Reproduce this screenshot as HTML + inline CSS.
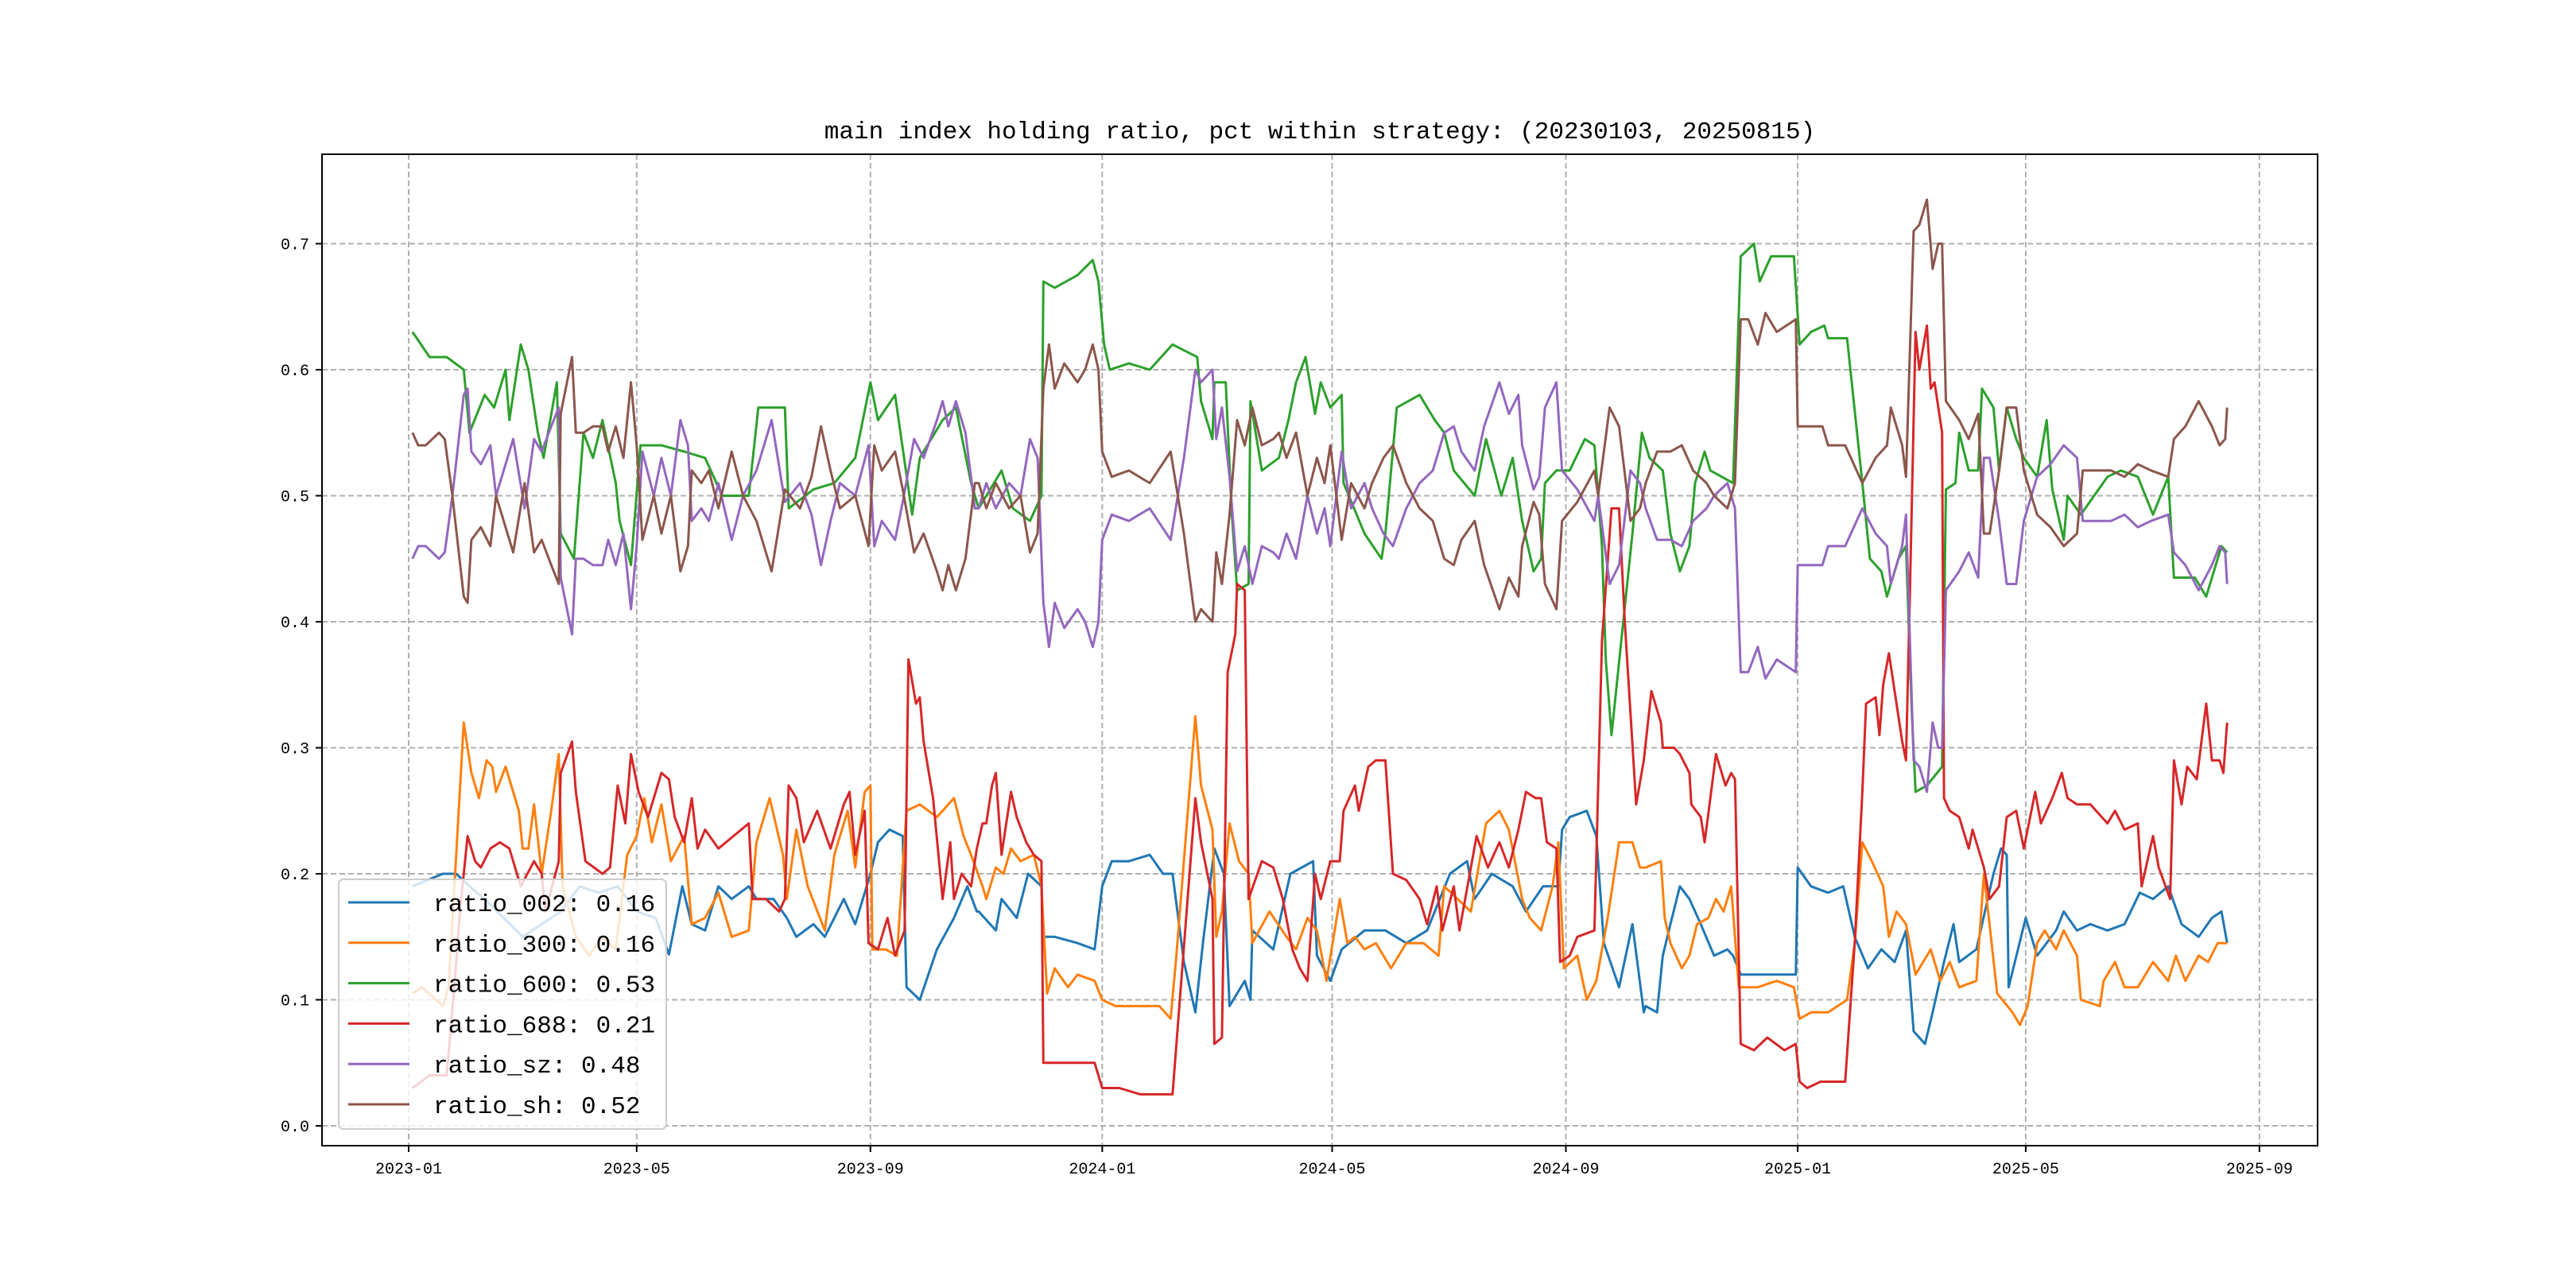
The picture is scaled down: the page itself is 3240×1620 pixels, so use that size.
<!DOCTYPE html>
<html><head><meta charset="utf-8"><style>
html,body{margin:0;padding:0;background:#fff;}
svg{display:block;}
</style></head><body>
<svg id="chart" width="3240" height="1620" viewBox="0 0 3240 1620" xmlns="http://www.w3.org/2000/svg">
<rect width="3240" height="1620" fill="#fff"/>
<text x="1660" y="174" text-anchor="middle" font-family="Liberation Mono, monospace" font-size="31" fill="#000">main index holding ratio, pct within strategy: (20230103, 20250815)</text>
<g id="grid"></g><g id="series"></g>
<rect x="405" y="194" width="2510" height="1247" fill="none" stroke="#000" stroke-width="2"/>
<g id="ticks"></g>
<g id="legend"></g>
</svg>
<script>
const yTicks=[0,0.1,0.2,0.3,0.4,0.5,0.6,0.7];
const xTickLabels=["2023-01","2023-05","2023-09","2024-01","2024-05","2024-09","2025-01","2025-05","2025-09"];
const xTickDays=[0,120,243,365,486,609,731,851,974];
const seriesNames=["ratio_002","ratio_300","ratio_600","ratio_688","ratio_sz","ratio_sh"];
const seriesMeans=["0.16","0.16","0.53","0.21","0.48","0.52"];
const colors=["#1f77b4","#ff7f0e","#2ca02c","#d62728","#9467bd","#8c564b"];

const d002=[2,10,18,25,32,40,50,60,70,80,90,100,110,120,130,137,144,149,156,163,170,179,183,192,199,204,213,219,229,235,243,247,253,260,262,269,278,287,294,299,300,309,312,320,326,333,334,340,352,361,365,370,379,390,397,402,408,414,418,424,429,432,440,443,444,455,464,476,478,485,491,503,514,525,536,548,557,561,570,581,588,597,605,607,611,620,625,629,637,644,650,651,657,660,664,669,674,680,687,694,697,701,710,720,730,731,738,747,755,761,768,775,782,788,792,798,802,808,813,816,825,834,838,841,842,851,857,867,871,878,885,894,903,911,918,926,933,942,949,954,957];
const v002=[.19,.195,.2,.2,.19,.18,.165,.15,.16,.17,.19,.185,.19,.17,.165,.136,.19,.16,.155,.19,.18,.19,.18,.18,.165,.15,.16,.15,.18,.16,.20,.225,.235,.23,.11,.10,.14,.165,.19,.17,.17,.155,.18,.165,.20,.19,.15,.15,.145,.14,.19,.21,.21,.215,.20,.20,.13,.09,.145,.22,.20,.095,.115,.10,.155,.14,.20,.21,.135,.115,.14,.155,.155,.145,.155,.20,.21,.18,.20,.19,.17,.19,.19,.235,.245,.25,.23,.145,.11,.16,.09,.095,.09,.135,.16,.19,.18,.16,.135,.14,.135,.12,.12,.12,.12,.205,.19,.185,.19,.15,.125,.14,.13,.155,.075,.065,.09,.13,.16,.13,.14,.20,.22,.215,.11,.165,.135,.155,.17,.155,.16,.155,.16,.185,.18,.19,.16,.15,.165,.17,.145];

const d300=[2,7,18,21,25,29,33,37,41,44,46,51,58,60,63,66,70,75,79,81,88,95,102,109,115,120,124,128,133,138,145,149,156,163,170,179,183,190,197,199,204,210,219,224,231,235,240,243,244,251,257,262,269,278,287,292,296,302,304,309,313,317,322,329,333,336,340,347,352,361,365,372,381,395,401,404,414,417,423,425,428,432,437,442,444,453,462,467,473,478,483,490,494,498,503,509,517,525,534,542,545,552,559,567,574,579,586,590,596,602,605,608,615,620,625,631,637,644,648,651,659,661,664,670,674,678,684,688,692,696,700,706,710,720,729,732,738,747,752,757,761,765,770,776,779,783,788,793,801,806,811,816,825,829,836,844,848,852,857,861,867,871,878,880,890,892,898,903,910,918,926,930,935,942,947,952,957];
const v300=[.105,.11,.095,.11,.215,.32,.28,.26,.29,.285,.265,.285,.25,.22,.22,.255,.20,.25,.295,.19,.15,.135,.15,.14,.215,.23,.26,.225,.255,.21,.23,.16,.165,.185,.15,.155,.225,.26,.215,.18,.235,.19,.155,.215,.25,.205,.265,.27,.14,.14,.135,.25,.255,.245,.26,.23,.215,.19,.18,.205,.20,.22,.21,.215,.19,.105,.125,.11,.12,.115,.10,.095,.095,.095,.085,.135,.325,.27,.235,.15,.17,.24,.21,.20,.145,.17,.15,.14,.165,.155,.115,.18,.145,.15,.14,.145,.125,.145,.145,.135,.19,.18,.17,.24,.25,.235,.18,.165,.155,.19,.225,.125,.135,.10,.115,.165,.225,.225,.205,.205,.21,.165,.145,.125,.135,.16,.165,.18,.17,.19,.11,.11,.11,.115,.11,.085,.09,.09,.095,.10,.145,.225,.21,.19,.15,.17,.16,.12,.14,.115,.13,.11,.115,.20,.105,.09,.08,.095,.145,.155,.14,.155,.135,.10,.095,.115,.13,.11,.11,.13,.115,.135,.115,.135,.13,.145,.145];

const d600=[2,11,20,29,32,40,45,51,53,59,63,68,71,78,80,87,92,97,102,109,111,117,122,133,145,156,165,179,184,190,198,200,213,224,235,243,247,256,265,269,281,288,296,300,312,318,327,333,334,340,352,360,363,366,369,379,390,402,415,417,423,424,430,433,436,442,443,449,458,463,467,472,477,480,485,491,492,503,512,514,520,532,540,545,550,561,567,575,581,586,592,596,598,604,611,619,624,628,630,633,644,649,653,660,664,669,674,677,682,685,697,701,708,711,717,729,732,738,745,747,752,757,765,769,775,778,784,788,791,793,799,807,809,814,816,821,826,828,834,837,841,846,850,857,862,865,871,873,880,887,894,901,910,918,926,929,940,946,954,957];
const v600=[.63,.61,.61,.60,.55,.58,.57,.60,.56,.62,.60,.55,.53,.59,.47,.45,.55,.53,.56,.51,.48,.445,.54,.54,.535,.53,.50,.50,.57,.57,.57,.49,.505,.51,.53,.59,.56,.58,.485,.53,.56,.57,.51,.49,.52,.49,.48,.50,.67,.665,.675,.687,.67,.62,.60,.605,.60,.62,.61,.575,.545,.59,.59,.49,.425,.43,.575,.52,.53,.56,.59,.61,.565,.59,.57,.58,.51,.47,.45,.47,.57,.58,.56,.55,.52,.50,.545,.50,.53,.48,.44,.45,.51,.52,.52,.545,.54,.46,.37,.31,.47,.55,.53,.52,.47,.44,.46,.51,.535,.52,.51,.69,.70,.67,.69,.69,.62,.63,.635,.625,.625,.625,.51,.45,.44,.42,.45,.46,.33,.265,.27,.285,.505,.51,.55,.52,.52,.585,.57,.52,.57,.545,.53,.515,.56,.505,.465,.50,.485,.50,.515,.52,.515,.485,.515,.435,.435,.42,.46,.455];

const d688=[2,11,20,24,27,31,35,38,43,48,53,59,66,70,72,79,80,86,88,93,102,106,110,114,117,121,126,129,133,137,140,145,149,152,156,163,167,179,181,188,195,198,200,204,208,215,222,229,232,235,240,242,247,252,256,261,263,267,269,271,276,281,285,287,291,296,299,302,304,307,309,312,317,320,325,329,333,334,340,352,361,365,374,385,395,402,414,417,423,424,428,431,435,436,440,442,449,455,460,465,469,473,477,480,485,490,492,498,500,505,509,514,518,525,532,536,541,544,550,553,562,568,574,579,584,588,593,596,599,604,606,611,615,624,628,633,637,640,646,650,654,659,660,666,669,674,675,680,682,685,688,693,696,698,701,708,715,724,730,732,736,743,752,756,761,765,767,772,774,776,779,781,786,788,790,793,795,799,801,803,807,808,811,816,821,823,829,832,837,841,846,850,856,859,865,870,873,878,885,894,898,903,910,912,918,921,927,929,933,936,941,946,949,953,955,957];
const v688=[.03,.04,.04,.11,.17,.23,.21,.205,.22,.225,.22,.19,.21,.20,.17,.21,.28,.305,.265,.21,.20,.205,.27,.24,.295,.265,.245,.26,.28,.275,.245,.225,.26,.22,.235,.22,.225,.24,.18,.18,.17,.18,.27,.26,.225,.25,.22,.255,.265,.215,.25,.145,.14,.165,.135,.155,.37,.335,.34,.305,.26,.18,.225,.18,.20,.19,.22,.24,.24,.27,.28,.215,.265,.245,.225,.215,.21,.05,.05,.05,.05,.03,.03,.025,.025,.025,.26,.225,.18,.065,.07,.36,.39,.43,.425,.18,.21,.205,.18,.14,.125,.115,.20,.18,.21,.21,.25,.27,.25,.285,.29,.29,.20,.195,.18,.16,.19,.155,.19,.155,.23,.205,.225,.205,.235,.265,.26,.26,.225,.22,.13,.135,.15,.155,.385,.49,.49,.40,.255,.29,.345,.32,.30,.30,.295,.28,.255,.245,.225,.26,.295,.27,.28,.275,.065,.06,.07,.06,.065,.035,.03,.035,.035,.035,.145,.265,.335,.34,.31,.35,.375,.355,.305,.29,.42,.63,.60,.635,.585,.59,.55,.26,.25,.245,.22,.235,.205,.18,.19,.245,.25,.22,.265,.24,.26,.28,.26,.255,.255,.24,.25,.235,.24,.19,.23,.205,.18,.29,.255,.285,.275,.335,.29,.29,.28,.32];

const dShSz=[2,5,9,16,19,23,29,31,33,38,43,46,50,55,61,66,70,75,79,80,86,88,92,97,102,105,109,113,117,120,123,129,133,138,143,147,149,154,158,163,170,176,183,191,198,206,212,217,222,227,235,242,245,249,256,260,266,271,278,281,284,288,293,298,300,304,309,316,322,327,331,334,337,340,345,352,356,360,363,365,370,379,390,401,408,414,417,423,425,428,432,436,440,444,449,455,458,462,467,473,478,482,485,491,496,503,507,513,518,525,532,539,545,550,554,561,566,574,579,584,586,592,595,598,604,607,615,624,626,632,637,643,648,651,657,664,670,676,683,687,694,698,701,705,710,714,720,730,731,738,744,747,756,765,772,778,780,786,788,792,795,799,802,805,807,809,816,821,826,829,832,837,841,846,850,857,864,871,878,881,890,896,903,910,917,926,929,935,942,949,953,956,957];
const vSh=[.55,.54,.54,.55,.545,.50,.42,.415,.465,.475,.46,.50,.48,.455,.51,.455,.465,.445,.43,.565,.61,.55,.55,.555,.555,.535,.555,.53,.59,.54,.465,.50,.47,.50,.44,.46,.52,.51,.52,.49,.535,.50,.48,.44,.505,.49,.515,.555,.52,.49,.50,.46,.54,.52,.535,.505,.455,.47,.44,.425,.445,.425,.45,.51,.51,.49,.51,.49,.50,.455,.47,.585,.62,.585,.605,.59,.60,.62,.60,.535,.515,.52,.51,.535,.47,.40,.41,.40,.455,.43,.485,.56,.54,.57,.54,.545,.55,.53,.55,.50,.53,.51,.54,.465,.51,.49,.51,.53,.54,.51,.49,.48,.45,.445,.465,.48,.445,.41,.435,.42,.46,.495,.485,.43,.41,.48,.495,.52,.50,.57,.555,.48,.49,.51,.535,.535,.54,.52,.51,.50,.49,.51,.64,.64,.62,.645,.63,.64,.555,.555,.555,.54,.54,.51,.53,.54,.57,.54,.515,.71,.715,.735,.68,.70,.70,.575,.56,.545,.565,.47,.47,.52,.57,.57,.52,.485,.475,.46,.47,.52,.52,.52,.515,.525,.52,.515,.545,.555,.575,.555,.54,.545,.57];
const vSz=[.45,.46,.46,.45,.455,.50,.58,.585,.535,.525,.54,.50,.52,.545,.49,.545,.535,.555,.57,.435,.39,.45,.45,.445,.445,.465,.445,.47,.41,.46,.535,.50,.53,.50,.56,.54,.48,.49,.48,.51,.465,.50,.52,.56,.495,.51,.485,.445,.48,.51,.50,.54,.46,.48,.465,.495,.545,.53,.56,.575,.555,.575,.55,.49,.49,.51,.49,.51,.50,.545,.53,.415,.38,.415,.395,.41,.40,.38,.40,.465,.485,.48,.49,.465,.53,.60,.59,.60,.545,.57,.515,.44,.46,.43,.46,.455,.45,.47,.45,.50,.47,.49,.46,.535,.49,.51,.49,.47,.46,.49,.51,.52,.55,.555,.535,.52,.555,.59,.565,.58,.54,.505,.515,.57,.59,.52,.505,.48,.50,.43,.445,.52,.51,.49,.465,.465,.46,.48,.49,.50,.51,.49,.36,.36,.38,.355,.37,.36,.445,.445,.445,.46,.46,.49,.47,.46,.43,.46,.485,.29,.285,.265,.32,.30,.30,.425,.44,.455,.435,.53,.53,.48,.43,.43,.48,.515,.525,.54,.53,.48,.48,.48,.485,.475,.48,.485,.455,.445,.425,.445,.46,.455,.43];

const NS='http://www.w3.org/2000/svg';
const X0=514, PXDAY=2.39, Y0=1416, PXV=1585;
function xS(day){return X0+day*PXDAY;}
function yS(v){return Y0-v*PXV;}
function mk(tag,attrs,parent){const e=document.createElementNS(NS,tag);for(const k in attrs)e.setAttribute(k,attrs[k]);parent.appendChild(e);return e;}

const grid=document.getElementById('grid'), ticks=document.getElementById('ticks');
yTicks.forEach(v=>{
  const g=mk('line',{x1:405,x2:2915,y1:yS(v),y2:yS(v),stroke:'#b0b0b0','stroke-width':2,'stroke-dasharray':'7,4'},grid);
  
  
  const t=mk('line',{x1:397,x2:405,y1:yS(v),y2:yS(v),stroke:'#000','stroke-width':2},ticks);
  
  
  const l=mk('text',{x:389,y:yS(v)+7,'text-anchor':'end','font-family':'Liberation Mono, monospace','font-size':20,fill:'#000'},ticks);
  l.textContent=v.toFixed(1);
  
  
});
xTickDays.forEach((d,i)=>{
  const g=mk('line',{x1:xS(d),x2:xS(d),y1:194,y2:1441,stroke:'#b0b0b0','stroke-width':2,'stroke-dasharray':'7,4'},grid);
  
  
  const t=mk('line',{x1:xS(d),x2:xS(d),y1:1441,y2:1449,stroke:'#000','stroke-width':2},ticks);
  
  
  const l=mk('text',{x:xS(d),y:1476,'text-anchor':'middle','font-family':'Liberation Mono, monospace','font-size':20,fill:'#000'},ticks);
  l.textContent=xTickLabels[i];
  
  
});

const allDays=[d002,d300,d600,d688,dShSz,dShSz];
const allVals=[v002,v300,v600,v688,vSz,vSh];
const sg=document.getElementById('series');
allVals.forEach((vals,i)=>{
  const days=allDays[i];
  const pts=vals.map((v,j)=>xS(days[j]).toFixed(1)+','+yS(v).toFixed(1)).join(' ');
  const p=mk('polyline',{points:pts,fill:'none',stroke:colors[i],'stroke-width':3,'stroke-linejoin':'round'},sg);
  
  
});

const lg=document.getElementById('legend');
const box=mk('rect',{x:426,y:1106,width:412,height:314,rx:6,fill:'#fff','fill-opacity':0.8,stroke:'#cccccc','stroke-width':2},lg);


seriesNames.forEach((n,i)=>{
  const y=1135+i*50.8;
  const ln=mk('line',{x1:438,x2:515,y1:y,y2:y,stroke:colors[i],'stroke-width':3},lg);
  
  
  const t=mk('text',{x:545,y:y+11,'font-family':'Liberation Mono, monospace','font-size':31,fill:'#000'},lg);
  t.textContent=n+': '+seriesMeans[i];
  
  
});
</script>
</body></html>
